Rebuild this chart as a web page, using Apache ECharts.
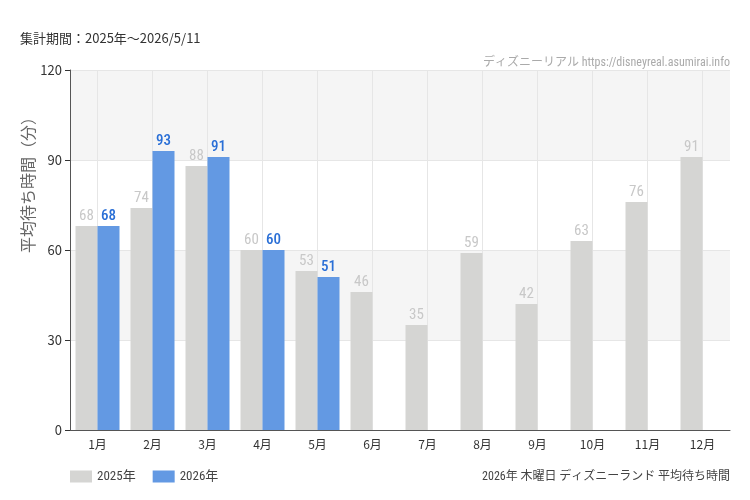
<!DOCTYPE html>
<html>
<head>
<meta charset="utf-8">
<script src="https://cdn.jsdelivr.net/npm/echarts@6/dist/echarts.min.js"></script>
<style>
  html, body { margin: 0; padding: 0; background: #fff; }
  #main { width: 750px; height: 500px; }
</style>
</head>
<body>
<div id="main"></div>
<script>
const months = ['1月', '2月', '3月', '4月', '5月', '6月', '7月', '8月', '9月', '10月', '11月', '12月'];
const wait2025 = [68, 74, 88, 60, 53, 46, 35, 59, 42, 63, 76, 91];
const wait2026 = [68, 93, 91, 60, 51, null, null, null, null, null, null, null];
const seriesNames = ['2025年', '2026年'];

const narrow = '"Roboto Condensed", "DejaVu Sans Condensed", "Liberation Sans Narrow", "Noto Sans CJK JP", sans-serif';
const jp = '"Noto Sans CJK JP", sans-serif';

function loadChart() {
  var chartDom = document.getElementById('main');
  var myChart = echarts.init(chartDom);
  var option;

  option = {
    animation: false,
    textStyle: { fontFamily: jp },
    grid: { left: 70, right: 20, top: 70, bottom: 70 },
    title: [
      {
        text: '集計期間：2025年〜2026/5/11',
        left: 15, top: 27,
        textStyle: { fontSize: 13, fontWeight: 'normal', color: '#333', fontFamily: jp }
      },
      {
        text: 'ディズニーリアル https://disneyreal.asumirai.info',
        right: 15, top: 52,
        textStyle: { fontSize: 12, fontWeight: 'normal', color: '#aaa', fontFamily: narrow }
      },
      {
        text: '2026年 木曜日 ディズニーランド 平均待ち時間',
        right: 15, top: 466,
        textStyle: { fontSize: 12, fontWeight: 'normal', color: '#444', fontFamily: narrow }
      }
    ],
    graphic: [
      {
        type: 'text',
        x: 28, y: 181,
        rotation: Math.PI / 2,
        style: {
          text: '平均待ち時間（分）',
          align: 'center', verticalAlign: 'middle',
          fontSize: 16, fill: '#666', fontFamily: jp
        }
      }
    ],
    legend: {
      left: 65, top: 465,
      itemWidth: 22, itemHeight: 12, itemGap: 17,
      icon: 'rect',
      textStyle: { fontSize: 13, color: '#444', fontFamily: narrow },
      data: seriesNames
    },
    xAxis: {
      type: 'category',
      data: months,
      axisLine: { lineStyle: { color: '#555' } },
      axisTick: { alignWithLabel: true, lineStyle: { color: '#555' } },
      axisLabel: { color: '#333', fontSize: 12, margin: 8 },
      splitLine: { show: true, alignWithLabel: true, lineStyle: { color: '#e6e6e6' } }
    },
    yAxis: {
      type: 'value',
      min: 0, max: 120, interval: 30,
      axisLine: { show: true, lineStyle: { color: '#555' } },
      axisTick: { show: true, lineStyle: { color: '#333' } },
      axisLabel: { color: '#333', fontSize: 13 },
      splitLine: { lineStyle: { color: '#e6e6e6' } },
      splitArea: { show: true, areaStyle: { color: ['#ffffff', '#f5f5f5'] } }
    },
    series: [
      {
        name: seriesNames[0],
        type: 'bar',
        data: wait2025,
        barGap: 0,
        barCategoryGap: '20%',
        itemStyle: { color: '#d5d5d3' },
        label: { show: true, position: 'top', distance: 2, color: '#c8c8c8', fontSize: 15, fontFamily: narrow }
      },
      {
        name: seriesNames[1],
        type: 'bar',
        data: wait2026,
        barGap: 0,
        barCategoryGap: '20%',
        itemStyle: { color: '#6399e3' },
        label: { show: true, position: 'top', distance: 2, color: '#2a6fd6', fontSize: 15, fontWeight: 500, fontFamily: narrow }
      }
    ]
  };

  myChart.setOption(option);
}

document.addEventListener('DOMContentLoaded', () => {
  loadChart();
});
</script>
</body>
</html>
